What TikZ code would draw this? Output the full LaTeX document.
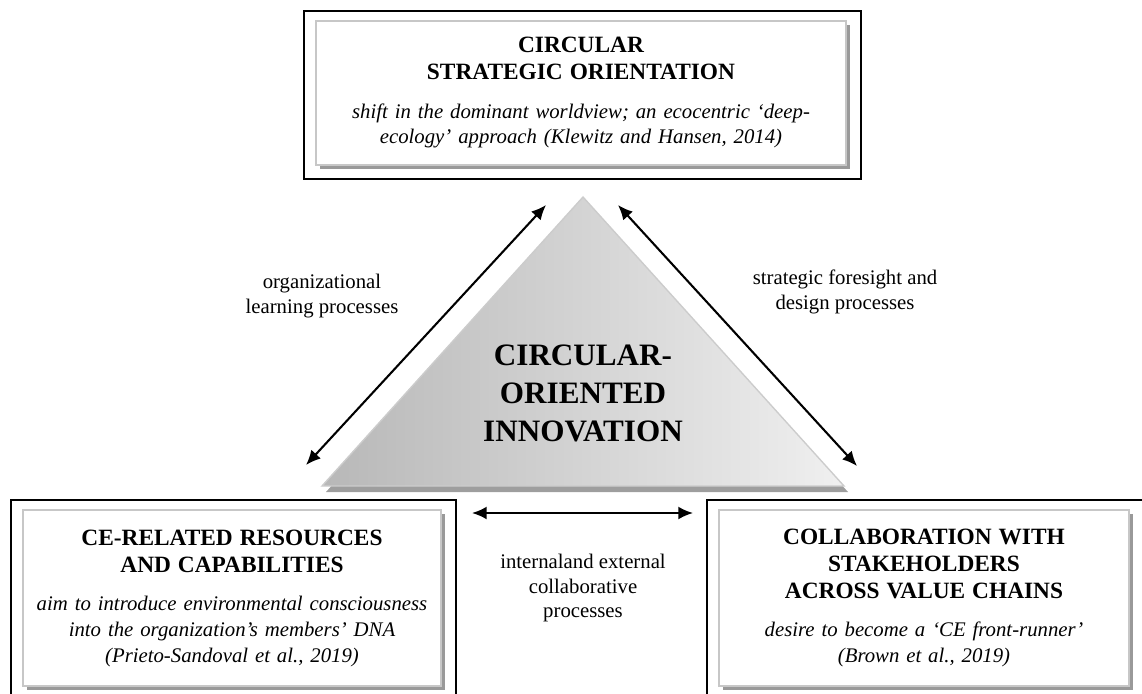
\documentclass[tikz,border=0pt]{standalone}
\usepackage{fontspec}
\setmainfont{Liberation Serif}
\usetikzlibrary{arrows.meta,shadows}
\tikzset{font=\fontsize{12}{14}\selectfont}
\newcommand{\gridu}{0.578pt}
\newcommand{\headfont}{\fontsize{13.5}{15.6}\selectfont\bfseries}
\newcommand{\notefont}{\fontsize{12}{15}\selectfont\itshape}

\begin{document}
\begin{tikzpicture}[x=0.578pt, y=-0.578pt,
  panel/.style={draw=black!22, line width=1.3pt, fill=white, inner sep=0pt,
    align=center,
    drop shadow={shadow xshift=2.2pt, shadow yshift=-2.2pt, fill=black!40, opacity=1}},
  frame/.style={draw=black, line width=1.1pt},
  link/.style={{Latex[length=8.5pt,width=7.5pt]}-{Latex[length=8.5pt,width=7.5pt]}, line width=1.2pt},
  proc/.style={align=center}]
  \clip (0,0) rectangle (1142,693);

  % triangle with its shadow
  \coordinate (apex) at (583,197);
  \coordinate (bl) at (322,486);
  \coordinate (br) at (844,486);
  \fill[black!38] (586,203) -- (326,492) -- (848,492) -- cycle;
  \shadedraw[left color=black!28, right color=black!6, draw=black!20, line width=0.8pt]
    (apex) -- (bl) -- (br) -- cycle;
  \node[proc, font=\fontsize{18}{22}\selectfont\bfseries] (coi) at (583,393)
    {CIRCULAR-\\ORIENTED\\INNOVATION};

  % the three panels
  \node[panel, minimum width={530*\gridu}, minimum height={144*\gridu},
        text width={500*\gridu}] (strat) at (581,93)
    {{\headfont CIRCULAR\\STRATEGIC ORIENTATION\par}\vspace{7pt}
     {\notefont shift in the dominant worldview; an ecocentric ‘deep-\\
      ecology’ approach (Klewitz and Hansen, 2014)\par}};
  \node[panel, minimum width={418*\gridu}, minimum height={176*\gridu},
        text width={400*\gridu}] (res) at (232,598)
    {{\headfont CE-RELATED RESOURCES\\AND CAPABILITIES\par}\vspace{7pt}
     {\notefont aim to introduce environmental consciousness\\
      into the organization’s members’ DNA\\(Prieto-Sandoval et al., 2019)\par}};
  \node[panel, minimum width={410*\gridu}, minimum height={176*\gridu},
        text width={390*\gridu}] (collab) at (924,598)
    {{\headfont COLLABORATION WITH\\STAKEHOLDERS\\ACROSS VALUE CHAINS\par}\vspace{7pt}
     {\notefont desire to become a ‘CE front-runner’\\(Brown et al., 2019)\par}};

  \foreach \p in {strat,res,collab}
    \draw[frame] ([shift={(-11,-9)}]\p.north west) rectangle ([shift={(14,13)}]\p.south east);

  % process labels
  \node[proc] (learn) at (322,296) {organizational\\learning processes};
  \node[proc] (design) at (845,292) {strategic foresight and\\design processes};
  \node[proc] (inex) at (583,588) {internaland external\\collaborative\\processes};

  \coordinate (lo-l) at (306,465);
  \coordinate (hi-l) at (546,205);
  \coordinate (hi-r) at (618,205);
  \coordinate (lo-r) at (857,466);
  \coordinate (mid-l) at (472,513);
  \coordinate (mid-r) at (693,513);
  \foreach \a/\b in {lo-l/hi-l, hi-r/lo-r, mid-l/mid-r}
    \draw[link] (\a) -- (\b);
\end{tikzpicture}
\end{document}
